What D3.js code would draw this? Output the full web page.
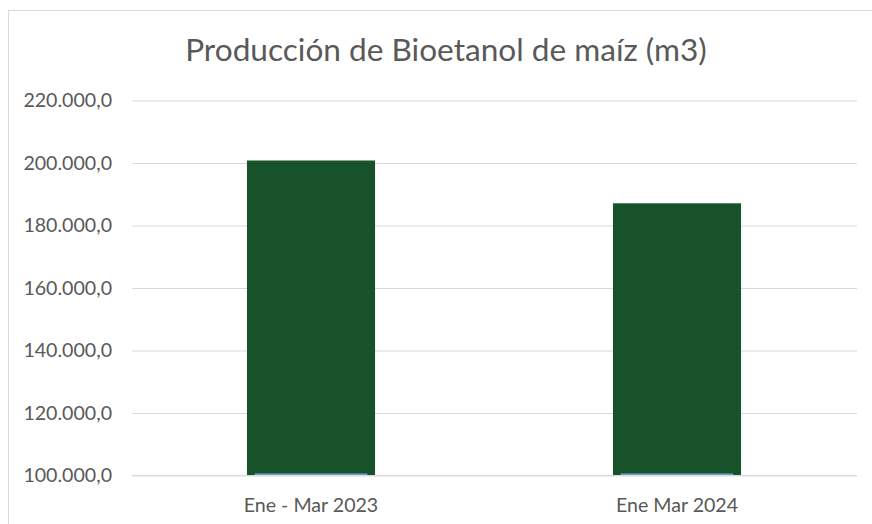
<!DOCTYPE html>
<html><head><meta charset="utf-8">
<script src="https://cdn.jsdelivr.net/npm/d3@7"></script>
<style>body{margin:0;background:#fff}svg{display:block}</style>
</head><body>
<script>
const categories = ["Ene - Mar 2023", "Ene Mar 2024"];
const produccion = [200800, 187100];
const serieAzul = [100650, 100650];
const yTicks = [100000, 120000, 140000, 160000, 180000, 200000, 220000];
const title = "Producción de Bioetanol de maíz (m3)";

const W = 872, H = 524;
const svg = d3.select("body").append("svg").attr("width", W).attr("height", H);
svg.append("rect").attr("x", 8.5).attr("y", 10.5).attr("width", 900).attr("height", 600)
  .attr("fill", "#fff").attr("stroke", "#d9d9d9").attr("stroke-width", 1);

const x = d3.scaleBand().domain(categories).range([128, 860]).paddingInner(0.65).paddingOuter(0.325);
const y = d3.scaleLinear().domain([100000, 220000]).range([475.5, 100.5]);

const fmt = v => d3.format(",.1f")(v).replace(/,/g, "#").replace(/\./g, ",").replace(/#/g, ".");
const font = "Lato, 'Open Sans', sans-serif";

const yAxis = d3.axisLeft(y).tickValues(yTicks).tickSize(-(857 - 132)).tickPadding(20).tickFormat(fmt);
const gy = svg.append("g").attr("transform", "translate(132,0)").call(yAxis);
gy.select(".domain").remove();
gy.selectAll(".tick line").attr("stroke", "#d9d9d9").attr("stroke-width", 1);
gy.selectAll(".tick text").attr("fill", "#595959").attr("font-family", font).attr("font-size", 19.6).attr("x", -20);

svg.append("g").selectAll("rect.bar").data(produccion).join("rect")
  .attr("x", (d, i) => x(categories[i])).attr("width", x.bandwidth())
  .attr("y", d => y(d)).attr("height", d => y(100000) - y(d)).attr("fill", "#18522b");

svg.append("g").selectAll("rect.blue").data(serieAzul).join("rect")
  .attr("x", (d, i) => x(categories[i]) + x.bandwidth() * 0.06).attr("width", x.bandwidth() * 0.88)
  .attr("y", d => y(d)).attr("height", d => y(100000) - y(d)).attr("fill", "#6a9fd8");

svg.append("line").attr("x1", 132).attr("x2", 857).attr("y1", y(100000)).attr("y2", y(100000))
  .attr("stroke", "#d9d9d9").attr("stroke-width", 1);

const xAxis = d3.axisBottom(x).tickSize(0).tickPadding(0);
const gx = svg.append("g").attr("transform", `translate(0,${y(100000)})`).call(xAxis);
gx.select(".domain").remove();
gx.selectAll(".tick text").attr("fill", "#595959").attr("font-family", font).attr("font-size", 19.6)
  .attr("dy", null).attr("y", 36);

svg.append("text").attr("x", 446).attr("y", 61).attr("text-anchor", "middle")
  .attr("fill", "#595959").attr("font-family", font).attr("font-size", 31.6).text(title);
</script>
</body></html>
